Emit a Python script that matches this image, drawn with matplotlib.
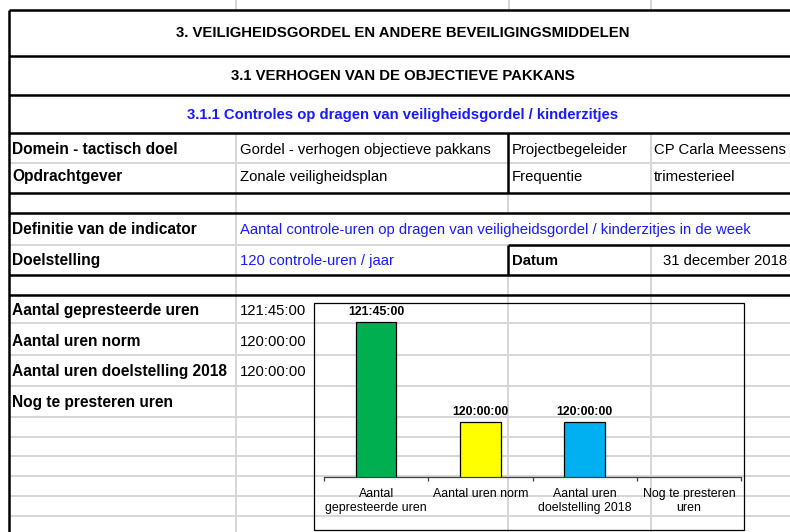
import numpy as np
import matplotlib.pyplot as plt
from matplotlib.patches import Rectangle

plt.rcParams['font.family'] = ['Liberation Sans', 'DejaVu Sans']

# data
categories = ["Aantal\ngepresteerde uren", "Aantal uren norm",
              "Aantal uren\ndoelstelling 2018", "Nog te presteren\nuren"]
hours = [121.75, 120.0, 120.0, np.nan]
hour_labels = ["121:45:00", "120:00:00", "120:00:00", ""]
bar_colors = ["#00b050", "#ffff00", "#00b0f0", "#ffffff"]

titles = ["3. VEILIGHEIDSGORDEL EN ANDERE BEVEILIGINGSMIDDELEN",
          "3.1 VERHOGEN VAN DE OBJECTIEVE PAKKANS",
          "3.1.1 Controles op dragen van veiligheidsgordel / kinderzitjes"]
info_rows = [("Domein - tactisch doel", "Gordel - verhogen objectieve pakkans", "Projectbegeleider", "CP Carla Meessens"),
             ("Opdrachtgever", "Zonale veiligheidsplan", "Frequentie", "trimesterieel")]
indicator = ("Definitie van de indicator", "Aantal controle-uren op dragen van veiligheidsgordel / kinderzitjes in de week")
goal = ("Doelstelling", "120 controle-uren / jaar", "Datum", "31 december 2018")
hour_rows = ["Aantal gepresteerde uren", "Aantal uren norm",
             "Aantal uren doelstelling 2018", "Nog te presteren uren"]

W, H = 790, 532
blue = "#1a1aff"
grey = "#d6d6d6"
fs = 10.7     # gewone tekst
fsb = 11.2    # vette labels links

fig = plt.figure(figsize=(W / 100, H / 100), dpi=100)
tab = fig.add_axes([0, 0, 1, 1])
tab.set_xlim(0, W)
tab.set_ylim(H, 0)
tab.axis("off")

def hline(y, x0=9, x1=W, thick=False):
    tab.plot([x0, x1], [y, y], color="black" if thick else grey,
             lw=1.8 if thick else 1.4, solid_capstyle="butt", zorder=3 if thick else 1)

def vline(x, y0, y1, thick=False):
    tab.plot([x, x], [y0, y1], color="black" if thick else grey,
             lw=1.8 if thick else 1.4, solid_capstyle="butt", zorder=3 if thick else 1)

# raster van het rekenblad
for y in [163, 323, 355, 386, 417, 437, 456, 476, 496, 516]:
    hline(y)
hline(245, 9, 508)
hline(245, 508, W, thick=True)
for y in [9.5, 55.7, 94.5, 133, 193, 213, 275, 294.5]:
    hline(y, thick=True)
for x in [236, 509, 651]:
    vline(x, 0, 9)
vline(9, 9.5, H, thick=True)
vline(236, 133, H)
vline(508, 133, 193, thick=True)
vline(508, 193, 213)
vline(508, 245, 275, thick=True)
vline(508, 275, H)
vline(651, 133, 213)
vline(651, 245, H)

# titels
for t, yb, c in zip(titles, [37.3, 80, 119], ["black", "black", blue]):
    tab.text(403, yb, t, ha="center", va="baseline", fontsize=fs,
             fontweight="bold", color=c)

# info
for row, yb in zip(info_rows, [154, 180.7]):
    tab.text(12, yb, row[0], fontsize=fsb, fontweight="bold", va="baseline")
    tab.text(240, yb, row[1], fontsize=fs, va="baseline")
    tab.text(512, yb, row[2], fontsize=fs, va="baseline")
    tab.text(654, yb, row[3], fontsize=fs, va="baseline")

tab.text(12, 234.3, indicator[0], fontsize=fsb, fontweight="bold", va="baseline")
tab.text(240, 234.3, indicator[1], fontsize=fs, color=blue, va="baseline")
tab.text(12, 265, goal[0], fontsize=fsb, fontweight="bold", va="baseline")
tab.text(240, 265, goal[1], fontsize=fs, color=blue, va="baseline")
tab.text(512, 265, goal[2], fontsize=fs, fontweight="bold", va="baseline")
tab.text(787, 265, goal[3], fontsize=fs, ha="right", va="baseline")

for i, (lab, yb) in enumerate(zip(hour_rows, [315, 345.7, 376, 406.7])):
    tab.text(12, yb, lab, fontsize=fsb, fontweight="bold", va="baseline")
    if hour_labels[i]:
        tab.text(240, yb, hour_labels[i], fontsize=fs, va="baseline")

# kader van de grafiek
tab.add_patch(Rectangle((314, 303.3), 430, 226.7, fill=False,
                        edgecolor="black", lw=0.9, zorder=4))

# staafdiagram
ax = fig.add_axes([324 / W, (H - 477) / H, 417 / W, 172 / H])
ax.patch.set_alpha(0)
x = np.arange(len(categories))
ax.bar(x, hours, width=0.39, color=bar_colors, edgecolor="black", lw=0.9)
for xi, v, lab in zip(x, hours, hour_labels):
    if lab:
        ax.annotate(lab, (xi, v), xytext=(0, 3), textcoords="offset points",
                    ha="center", va="bottom", fontsize=8.8, fontweight="bold")
ax.set_xlim(-0.5, 3.5)
ax.set_ylim(119.04, 122.05)
for s in ["left", "right", "top"]:
    ax.spines[s].set_visible(False)
ax.spines["bottom"].set_color("#404040")
ax.spines["bottom"].set_linewidth(0.9)
ax.set_yticks([])
ax.set_xticks(x)
ax.set_xticklabels(categories, fontsize=8.9, linespacing=1.2)
ax.tick_params(axis="x", which="major", length=0, pad=8)
ax.set_xticks(np.arange(-0.5, 4, 1), minor=True)
ax.tick_params(axis="x", which="minor", length=3, color="#404040", width=0.9, direction="out")

fig.savefig("out.png", dpi=100)
